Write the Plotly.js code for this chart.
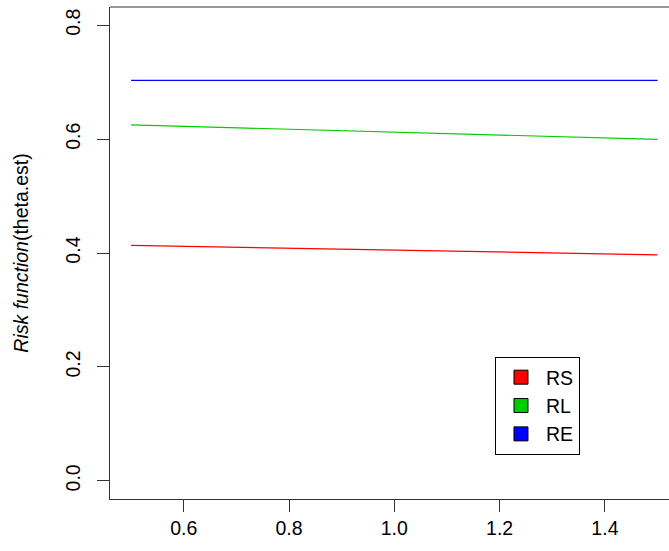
<!DOCTYPE html>
<html>
<head>
<meta charset="utf-8">
<script src="https://cdn.plot.ly/plotly-3.0.1.min.js"></script>
<style>html,body{margin:0;padding:0;overflow:hidden;background:#fff;}</style>
</head>
<body>
<div id="chart" style="width:669px;height:551px;"></div>
<script>
// Data
const thetaGrid = [0.5, 0.75, 1.0, 1.25, 1.5];
const seriesNames = ["RS", "RL", "RE"];
const rsValues = [0.4135, 0.4093, 0.4051, 0.4009, 0.3967];
const rlValues = [0.6250, 0.6187, 0.6123, 0.6060, 0.5996];
const reValues = [0.7030, 0.7030, 0.7030, 0.7030, 0.7030];
const seriesColors = ["#ff0000", "#00cd00", "#0000ff"];
const xTicks = [0.6, 0.8, 1.0, 1.2, 1.4];
const xTickText = ["0.6", "0.8", "1.0", "1.2", "1.4"];
const yTicks = [0.0, 0.2, 0.4, 0.6, 0.8];
const yTickText = ["0.0", "0.2", "0.4", "0.6", "0.8"];

const FONT = "Liberation Sans, Arial, sans-serif";
const FS = 19.5;
const values = [rsValues, rlValues, reValues];

const traces = [];
values.forEach((v, i) => {
  traces.push({
    type: "scatter", mode: "lines", x: thetaGrid, y: v,
    name: seriesNames[i], showlegend: false, hoverinfo: "x+y+name",
    line: {color: seriesColors[i], width: 1.2}
  });
});
values.forEach((v, i) => {
  traces.push({
    type: "scatter", mode: "markers", x: [null], y: [null],
    name: seriesNames[i], showlegend: true,
    marker: {symbol: "square", size: 14, color: seriesColors[i], line: {color: "#000", width: 1}}
  });
});

const layout = {
  width: 669, height: 551,
  margin: {l: 110, r: 0, t: 7, b: 52, pad: 0},
  paper_bgcolor: "#fff", plot_bgcolor: "#fff",
  font: {family: FONT, size: FS, color: "#000"},
  showlegend: true,
  xaxis: {
    range: [0.46, 1.5217], showgrid: false, zeroline: false,
    showline: true, linecolor: "#333", linewidth: 1,
    ticks: "outside", ticklen: 12, tickcolor: "#333", tickwidth: 1,
    tickvals: xTicks, ticktext: xTickText,
    tickfont: {family: FONT, size: FS, color: "#000"}
  },
  yaxis: {
    range: [-0.032, 0.832], showgrid: false, zeroline: false,
    showline: true, linecolor: "#333", linewidth: 1,
    ticks: "outside", ticklen: 12, tickcolor: "#333", tickwidth: 1,
    tickvals: yTicks, ticktext: yTickText, tickangle: -90,
    ticklabelstandoff: 9,
    tickfont: {family: FONT, size: FS, color: "#000"},
    title: {text: "<i>Risk function</i>(theta.est)", font: {family: FONT, size: FS, color: "#000"}, standoff: 28}
  },
  shapes: [
    {type: "line", xref: "paper", yref: "paper", x0: 0, x1: 1, y0: 1, y1: 1, line: {color: "#333", width: 1}}
  ],
  legend: {
    x: 0.6887, y: 0.2886, xanchor: "left", yanchor: "top",
    bordercolor: "#000", borderwidth: 1, bgcolor: "#fff",
    font: {family: FONT, size: FS, color: "#000"},
    itemwidth: 40, entrywidth: 48, tracegroupgap: 0
  }
};

Plotly.newPlot("chart", traces, layout, {displayModeBar: false, staticPlot: true});
</script>
</body>
</html>
